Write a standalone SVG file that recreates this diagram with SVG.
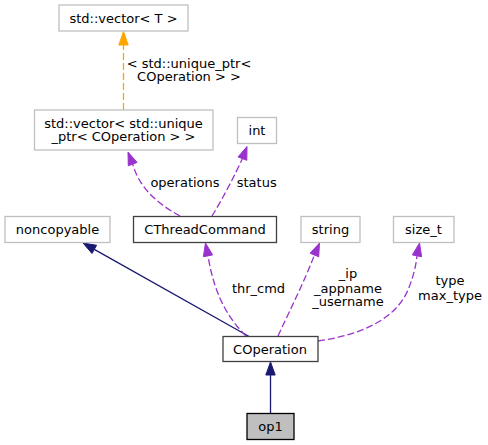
<svg xmlns="http://www.w3.org/2000/svg" width="488" height="445" viewBox="0 0 488 445">
<style>
text{font-family:"DejaVu Sans",sans-serif;font-size:13px;fill:#000;text-anchor:middle}
.ext{fill:#fff;stroke:#bfbfbf;stroke-width:1.3}
.lnk{fill:#fff;stroke:#404040;stroke-width:1.3}
.root{fill:#bfbfbf;stroke:#000;stroke-width:1.3}
.dp{fill:none;stroke:#9a32cd;stroke-width:1.3;stroke-dasharray:7,3}
.ap{fill:#9a32cd;stroke:#9a32cd}
.do{fill:none;stroke:#ffa500;stroke-width:1.3;stroke-dasharray:7,3}
.ao{fill:#ffa500;stroke:#ffa500}
.sn{fill:none;stroke:#191970;stroke-width:1.3}
.an{fill:#191970;stroke:#191970}
</style>
<g id="edges">
<path class="do" d="M123.5,110 L123.5,45"/>
<polygon class="ao" points="118.8,45 123.5,31.5 128.2,45"/>
<text x="189" y="67.5">&lt; std::unique_ptr&lt;</text>
<text x="189" y="81">COperation &gt; &gt;</text>
<path class="dp" d="M180,216 C160,205 140,190 132.7,164.1"/>
<polygon class="ap" points="137.1,162.4 128,152 128.3,165.8"/>
<text x="185" y="187">operations</text>
<path class="dp" d="M212,216 C222,200 235,175 242.4,158.6"/>
<polygon class="ap" points="246.8,160.3 247,146.5 238,156.9"/>
<text x="256.7" y="187">status</text>
<path class="sn" d="M250,337 L94.3,249.4"/>
<polygon class="an" points="96.6,245.3 83,243 92,253.5"/>
<path class="dp" d="M246,336 C232,322 215,300 208,255.8"/>
<polygon class="ap" points="212.6,254.9 205.5,243 203.4,256.7"/>
<text x="258.5" y="292.5">thr_cmd</text>
<path class="dp" d="M278,336 C290,310 305,280 314.4,255"/>
<polygon class="ap" points="318.7,256.8 319.5,243 310.1,253.2"/>
<text x="348" y="278">_ip</text>
<text x="348" y="292.5">_appname</text>
<text x="348" y="306">_username</text>
<path class="dp" d="M318,341 C360,335 395,320 408,290 C414,275 416,265 417,255.8"/>
<polygon class="ap" points="421.6,256.7 419.5,243 412.4,254.9"/>
<text x="450" y="285">type</text>
<text x="450" y="300">max_type</text>
<path class="sn" d="M270.5,413 L270.5,375"/>
<polygon class="an" points="265.8,375 270.5,362 275.2,375"/>
</g>
<g id="vectorT"><rect class="ext" x="59" y="5" width="129" height="26"/><text x="123.5" y="22.5">std::vector&lt; T &gt;</text></g>
<g id="vectorUP"><rect class="ext" x="34.5" y="110" width="178.5" height="40"/><text x="123.5" y="127.5">std::vector&lt; std::unique</text><text x="123.5" y="141">_ptr&lt; COperation &gt; &gt;</text></g>
<g id="int"><rect class="ext" x="237.5" y="117.5" width="39" height="26"/><text x="257" y="134.5">int</text></g>
<g id="noncopyable"><rect class="ext" x="5" y="216.5" width="105" height="26"/><text x="57.5" y="234">noncopyable</text></g>
<g id="CThreadCommand"><rect class="lnk" x="133.5" y="216.5" width="143" height="26"/><text x="205" y="234">CThreadCommand</text></g>
<g id="string"><rect class="ext" x="301" y="216.5" width="59" height="26"/><text x="330.5" y="233.5">string</text></g>
<g id="size_t"><rect class="ext" x="393.5" y="216.5" width="60.5" height="26"/><text x="423.5" y="233.5">size_t</text></g>
<g id="COperation"><rect class="lnk" x="223" y="336.5" width="95" height="25"/><text x="270" y="353.5">COperation</text></g>
<g id="op1"><rect class="root" x="247" y="413.5" width="47" height="26"/><text x="270.5" y="430.5">op1</text></g>
</svg>
